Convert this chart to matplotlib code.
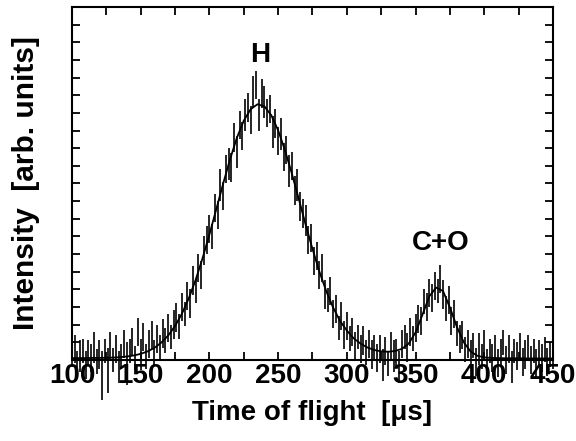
import numpy as np
import matplotlib
matplotlib.use("Agg")
import matplotlib.pyplot as plt
from matplotlib.ticker import MultipleLocator

plt.rcParams['font.family'] = ['Liberation Sans', 'DejaVu Sans']
plt.rcParams['font.weight'] = 'bold'

# time bins of the measured spectrum [us]
tof = np.arange(100, 451, 2)

counts = [
    0.3, 0.6, -0.2, 0.2, 0.5, -0.3, 0.4, 0.1, 0.7, -0.1,     # 100-118
    0.3, -0.9, 0.5, -0.6, 0.8, 0.0, 0.6, -0.4, 0.2, 0.9,     # 120-138
    -0.2, 0.5, 1.0, 0.1, 1.6, 0.3, 1.3, 0.2, 0.9, 1.4,       # 140-158
    0.4, 1.2, 0.7, 1.5, 1.1, 1.8, 1.3, 2.0, 2.4, 1.9,        # 160-178
    3.0, 2.6, 3.6, 3.2, 4.5, 3.9, 5.2, 4.8, 6.2, 6.8,        # 180-198
    7.4, 7.0, 8.6, 8.2, 9.9, 9.3, 10.8, 11.1, 10.9, 12.6,    # 200-218
    11.8, 13.3, 12.7, 13.9, 14.3, 13.6, 15.2, 15.6, 13.9, 15.1,  # 220-238
    14.6, 14.0, 14.2, 12.9, 13.4, 12.4, 12.8, 11.5, 11.9, 10.7,  # 240-258
    11.0, 9.6, 9.9, 8.7, 8.3, 7.9, 6.8, 6.9, 5.6, 5.9,       # 260-278
    4.8, 5.2, 3.7, 3.4, 3.9, 2.6, 2.9, 1.8, 2.5, 1.4,        # 280-298
    1.9, 1.2, 1.6, 0.8, 1.3, 0.6, 1.1, 0.4, 0.9, 0.3,        # 300-318
    0.7, 0.1, 0.6, -0.3, 0.5, -0.2, 0.8, 0.2, 0.4, -0.4,     # 320-338
    0.9, 1.3, 0.7, 1.6, 1.2, 1.8, 2.3, 2.2, 3.3, 3.0,        # 340-358
    3.8, 3.5, 4.2, 3.9, 4.6, 3.7, 2.9, 3.4, 2.2, 2.6,        # 360-378
    1.5, 1.2, 1.4, 0.6, 0.9, 0.3, 0.8, -0.1, 0.6, 0.2,       # 380-398
    0.9, -0.3, 0.5, 0.1, 0.7, -0.2, 0.4, 1.0, 0.0, 0.6,      # 400-418
    -0.4, 0.5, 0.2, 0.8, -0.1, 0.3, 0.7, 0.0, 0.5, -0.2,     # 420-438
    0.4, 0.1, 0.6, -0.1, 0.3, 0.2,                           # 440-450
]

# error of each point
errors = [
    0.7, 0.8, 0.7, 0.9, 0.7, 0.8, 0.7, 0.8, 0.9, 0.7,
    0.8, 1.4, 0.7, 1.3, 0.8, 0.7, 0.8, 0.9, 0.7, 0.8,
    1.2, 0.7, 0.8, 0.7, 0.8, 0.9, 0.8, 0.7, 0.8, 0.8,
    0.7, 0.8, 0.7, 0.8, 0.7, 0.8, 0.7, 0.8, 0.8, 0.7,
    0.8, 0.7, 0.8, 0.8, 0.8, 0.7, 0.8, 0.8, 0.8, 0.8,
    0.8, 0.7, 0.8, 0.8, 0.9, 0.8, 0.8, 0.9, 0.8, 0.8,
    0.9, 0.8, 0.8, 0.9, 0.8, 0.8, 0.9, 0.8, 0.9, 0.8,
    0.9, 0.8, 0.8, 0.9, 0.8, 0.8, 0.9, 0.8, 0.8, 0.9,
    0.8, 0.8, 0.9, 0.8, 0.8, 0.9, 0.8, 0.8, 0.8, 0.8,
    0.8, 0.8, 0.8, 0.7, 0.8, 0.8, 0.8, 0.7, 0.8, 0.8,
    0.8, 0.7, 0.8, 0.8, 0.7, 0.8, 0.8, 0.7, 0.8, 0.8,
    0.7, 0.8, 0.8, 0.9, 0.8, 0.7, 0.8, 0.9, 0.8, 0.9,
    0.8, 0.7, 0.8, 0.8, 0.7, 0.8, 0.8, 0.8, 0.7, 0.8,
    0.8, 0.8, 0.8, 0.7, 0.8, 0.8, 0.7, 0.8, 0.8, 0.8,
    0.7, 0.8, 0.8, 0.7, 0.8, 0.8, 0.7, 0.8, 0.9, 0.7,
    0.8, 0.9, 0.7, 0.8, 0.7, 0.8, 0.8, 0.7, 0.8, 0.8,
    0.9, 0.7, 0.8, 0.7, 0.8, 0.8, 0.7, 0.8, 0.7, 0.8,
    0.7, 0.8, 0.7, 0.8, 0.7, 0.7,
]

# fitted curve (two peaks), sampled every 5 us
fit_t = np.arange(100, 451, 5)
fit_y = [
    0.10, 0.10, 0.10, 0.11, 0.11, 0.12, 0.13, 0.15, 0.19, 0.25,   # 100-145
    0.34, 0.48, 0.68, 0.98, 1.38, 1.92, 2.62, 3.49, 4.54, 5.76,   # 150-195
    7.11, 8.54, 9.99, 11.37, 12.59, 13.56, 14.21, 14.49, 14.37, 13.87,  # 200-245
    13.01, 11.88, 10.56, 9.13, 7.67, 6.29, 5.01, 3.90, 2.97, 2.21,  # 250-295
    1.66, 1.22, 0.92, 0.70, 0.56, 0.48, 0.46, 0.50, 0.62, 0.92,   # 300-345
    1.55, 2.55, 3.60, 4.10, 3.90, 2.97, 1.89, 1.01, 0.48, 0.23,   # 350-395
    0.14, 0.11, 0.10, 0.09, 0.09, 0.09, 0.08, 0.08, 0.08, 0.08,   # 400-445
    0.08,                                                         # 450
]

counts = np.array(counts)
errors = np.array(errors)

fig = plt.figure(figsize=(5.76, 4.41), dpi=100)
ax = fig.add_axes([0.125, 0.184, 0.835, 0.800])

ax.vlines(tof, counts - errors, counts + errors, colors='k', linewidth=1.2, clip_on=False, zorder=3)
ax.plot(fit_t, fit_y, color='k', linewidth=1.3, zorder=4)

ax.text(237, 17.3, 'H', ha='center', va='center', fontsize=20, fontweight='bold')
ax.text(368, 6.6, 'C+O', ha='center', va='center', fontsize=20, fontweight='bold')

ax.set_xlim(100, 450)
ax.set_ylim(0, 20)
ax.xaxis.set_major_locator(MultipleLocator(50))
ax.xaxis.set_minor_locator(MultipleLocator(25))
ax.yaxis.set_major_locator(MultipleLocator(1))
ax.set_yticklabels([])
ax.tick_params(which='both', direction='in', top=True, right=True, length=6, width=1.3,
               labelsize=20, pad=2)
for lab in ax.get_xticklabels():
    lab.set_fontweight('bold')
for sp in ax.spines.values():
    sp.set_linewidth(1.5)

ax.set_xlabel('Time of flight  [\u03bcs]', fontsize=20, fontweight='bold', labelpad=8)
ax.set_ylabel('Intensity  [arb. units]', fontsize=21.5, fontweight='bold', labelpad=21)

fig.savefig('out.png', dpi=100)
